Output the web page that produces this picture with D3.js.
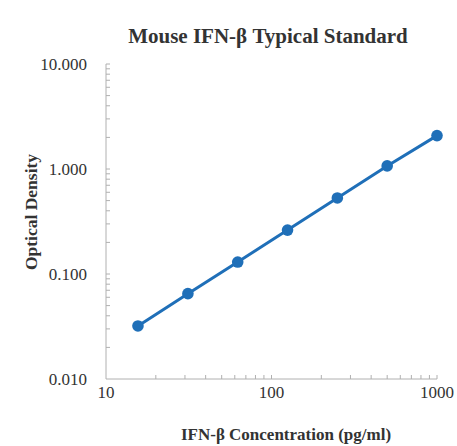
<!DOCTYPE html>
<html>
<head>
<meta charset="utf-8">
<script src="https://cdn.jsdelivr.net/npm/d3@7"></script>
<style>
  body { margin: 0; background: #fff; }
  text { font-family: "Liberation Serif", "Times New Roman", serif; fill: #333; }
</style>
</head>
<body>
<div id="chart"></div>
<script>
// Standard curve data
const concentrations = [15.6, 31.25, 62.5, 125, 250, 500, 1000];
const densities = [0.032, 0.065, 0.13, 0.262, 0.53, 1.07, 2.08];
const xTickValues = [10, 100, 1000];
const yTickValues = [0.01, 0.1, 1, 10];

const width = 457;
const height = 446;

const svg = d3.select("#chart")
  .append("svg")
  .attr("width", width)
  .attr("height", height);

// Log scales
const x = d3.scaleLog().domain([10, 1000]).range([106, 437]);
const y = d3.scaleLog().domain([0.01, 10]).range([379, 64]);

const axisColor = "#b0b0b0";

// Minor ticks (2..9 per decade)
const minorX = [];
for (let d = 10; d < 1000; d *= 10) for (let k = 2; k <= 10; k++) minorX.push(d * k);
const minorY = [];
for (let d = 0.01; d < 9; d *= 10) for (let k = 2; k <= 10; k++) minorY.push(+(d * k).toPrecision(3));

// Y axis line and ticks
svg.append("line")
  .attr("x1", x(10)).attr("x2", x(10))
  .attr("y1", y(10)).attr("y2", y(0.01))
  .attr("stroke", axisColor).attr("stroke-width", 1);

svg.append("g")
  .selectAll("line")
  .data(minorY)
  .join("line")
  .attr("x1", x(10)).attr("x2", x(10) + 4)
  .attr("y1", (d) => y(d)).attr("y2", (d) => y(d))
  .attr("stroke", axisColor);

// X axis line and ticks
svg.append("line")
  .attr("x1", x(10)).attr("x2", x(1000))
  .attr("y1", y(0.01)).attr("y2", y(0.01))
  .attr("stroke", axisColor).attr("stroke-width", 1);

svg.append("g")
  .selectAll("line")
  .data(minorX)
  .join("line")
  .attr("x1", (d) => x(d)).attr("x2", (d) => x(d))
  .attr("y1", y(0.01)).attr("y2", y(0.01) - 4)
  .attr("stroke", axisColor);

// Tick labels
svg.append("g")
  .selectAll("text")
  .data(yTickValues)
  .join("text")
  .attr("x", 87)
  .attr("y", (d) => y(d) + 5.5)
  .attr("text-anchor", "end")
  .style("font-size", "17px")
  .text((d) => d.toFixed(3));

svg.append("g")
  .selectAll("text")
  .data(xTickValues)
  .join("text")
  .attr("x", (d) => x(d))
  .attr("y", 398)
  .attr("text-anchor", "middle")
  .style("font-size", "17px")
  .text((d) => d);

// Line and points
const lineColor = "#1f6fb8";
const line = d3.line()
  .x((d, i) => x(concentrations[i]))
  .y((d) => y(d));

svg.append("path")
  .datum(densities)
  .attr("d", line)
  .attr("fill", "none")
  .attr("stroke", lineColor)
  .attr("stroke-width", 3);

svg.append("g")
  .selectAll("circle")
  .data(densities)
  .join("circle")
  .attr("cx", (d, i) => x(concentrations[i]))
  .attr("cy", (d) => y(d))
  .attr("r", 5.8)
  .attr("fill", lineColor);

// Titles
svg.append("text")
  .attr("x", 268)
  .attr("y", 43)
  .attr("text-anchor", "middle")
  .style("font-size", "21px")
  .style("font-weight", "bold")
  .text("Mouse IFN-β Typical Standard");

svg.append("text")
  .attr("x", 286)
  .attr("y", 440)
  .attr("text-anchor", "middle")
  .style("font-size", "17px")
  .style("font-weight", "bold")
  .text("IFN-β Concentration (pg/ml)");

svg.append("text")
  .attr("transform", "translate(37,212) rotate(-90)")
  .attr("text-anchor", "middle")
  .style("font-size", "17.5px")
  .style("font-weight", "bold")
  .text("Optical Density");
</script>
</body>
</html>
